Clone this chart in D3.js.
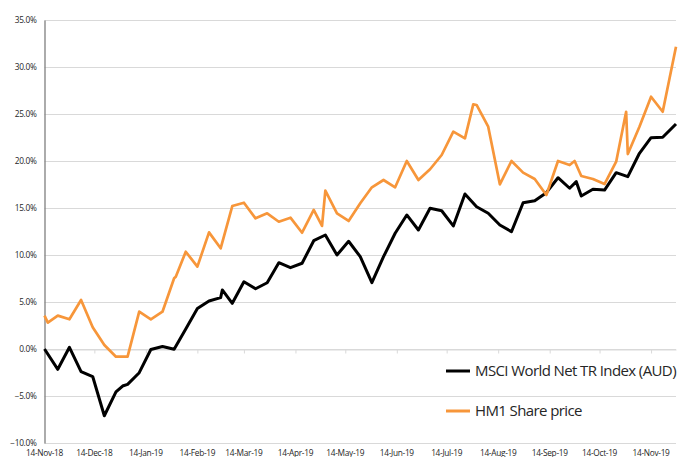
<!DOCTYPE html>
<html>
<head>
<meta charset="utf-8">
<script src="https://cdn.jsdelivr.net/npm/d3@7"></script>
<style>
  html, body { margin: 0; padding: 0; background: #fff; }
  svg { display: block; }
</style>
</head>
<body>
<svg id="chart" width="680" height="457"></svg>
<script>
// ---------------- DATA ----------------
const seriesNames = ["MSCI World Net TR Index (AUD)", "HM1 Share price"];

const msciDates = [
  "2018-11-14","2018-11-22","2018-11-29","2018-12-06","2018-12-13","2018-12-20","2018-12-27","2018-12-31",
  "2019-01-03","2019-01-10","2019-01-17","2019-01-24","2019-01-31","2019-02-07","2019-02-14","2019-02-21",
  "2019-02-28","2019-03-01","2019-03-07","2019-03-14","2019-03-21","2019-03-28","2019-04-04","2019-04-11",
  "2019-04-18","2019-04-25","2019-05-02","2019-05-09","2019-05-16","2019-05-23","2019-05-30","2019-06-06",
  "2019-06-13","2019-06-20","2019-06-27","2019-07-04","2019-07-11","2019-07-18","2019-07-25","2019-08-01",
  "2019-08-08","2019-08-15","2019-08-22","2019-08-29","2019-09-05","2019-09-12","2019-09-19","2019-09-26",
  "2019-09-30","2019-10-03","2019-10-10","2019-10-17","2019-10-24","2019-10-31","2019-11-07","2019-11-14",
  "2019-11-21","2019-11-29"
];
const msciValues = [
  0.0, -2.16, 0.18, -2.41, -2.93, -7.10, -4.57, -3.94,
  -3.76, -2.52, -0.05, 0.27, -0.03, 2.13, 4.30, 5.11,
  5.46, 6.28, 4.86, 7.16, 6.41, 7.05, 9.18, 8.65,
  9.12, 11.52, 12.13, 10.00, 11.46, 9.82, 7.05, 9.82,
  12.31, 14.26, 12.66, 14.97, 14.71, 13.09, 16.49, 15.14,
  14.44, 13.19, 12.48, 15.56, 15.78, 16.63, 18.22, 17.10,
  17.80, 16.28, 16.99, 16.91, 18.76, 18.33, 20.82, 22.48,
  22.52, 23.94
];

const hm1Dates = [
  "2018-11-14","2018-11-16","2018-11-22","2018-11-29","2018-12-06","2018-12-13","2018-12-20","2018-12-27",
  "2019-01-03","2019-01-10","2019-01-17","2019-01-24","2019-01-31","2019-02-01","2019-02-07","2019-02-14",
  "2019-02-21","2019-02-28","2019-03-07","2019-03-14","2019-03-21","2019-03-28","2019-04-04","2019-04-11",
  "2019-04-18","2019-04-25","2019-04-30","2019-05-02","2019-05-09","2019-05-16","2019-05-23","2019-05-30",
  "2019-06-06","2019-06-13","2019-06-20","2019-06-27","2019-07-04","2019-07-11","2019-07-18","2019-07-25",
  "2019-07-30","2019-08-01","2019-08-08","2019-08-15","2019-08-22","2019-08-29","2019-09-05","2019-09-12",
  "2019-09-19","2019-09-26","2019-09-29","2019-10-03","2019-10-10","2019-10-17","2019-10-24","2019-10-30",
  "2019-10-31","2019-11-07","2019-11-14","2019-11-21","2019-11-29"
];
const hm1Values = [
  3.55, 2.80, 3.55, 3.16, 5.21, 2.31, 0.43, -0.82,
  -0.82, 3.97, 3.16, 3.97, 7.52, 7.69, 10.35, 8.76,
  12.41, 10.71, 15.21, 15.56, 13.90, 14.43, 13.54, 13.97,
  12.37, 14.79, 13.09, 16.84, 14.43, 13.62, 15.50, 17.20,
  17.98, 17.20, 20.00, 17.98, 19.12, 20.64, 23.12, 22.41,
  26.03, 25.96, 23.65, 17.52, 20.00, 18.76, 18.09, 16.38,
  20.00, 19.57, 20.00, 18.40, 18.09, 17.55, 19.93, 25.24,
  20.74, 23.65, 26.84, 25.24, 32.16
];

const xTickDates = [
  "2018-11-14","2018-12-14","2019-01-14","2019-02-14","2019-03-14","2019-04-14","2019-05-14",
  "2019-06-14","2019-07-14","2019-08-14","2019-09-14","2019-10-14","2019-11-14"
];
const xTickLabels = [
  "14-Nov-18","14-Dec-18","14-Jan-19","14-Feb-19","14-Mar-19","14-Apr-19","14-May-19",
  "14-Jun-19","14-Jul-19","14-Aug-19","14-Sep-19","14-Oct-19","14-Nov-19"
];
const yTicks = [-10, -5, 0, 5, 10, 15, 20, 25, 30, 35];
const xDomain = ["2018-11-14", "2019-11-29"];
const yDomain = [-10, 35];

// ---------------- CHART ----------------
(function () {
const parse = d3.utcParse("%Y-%m-%d");
const svg = d3.select("#chart");
const pL = 44.5, pR = 676, pT = 20, pB = 443;

const x = d3.scaleUtc().domain(xDomain.map(parse)).range([pL, pR]);
const y = d3.scaleLinear().domain(yDomain).range([pB, pT]);

const font = "'Open Sans', sans-serif";

// gridlines
svg.append("g")
  .selectAll("line")
  .data(yTicks)
  .join("line")
  .attr("x1", pL).attr("x2", pR)
  .attr("y1", d => Math.round(y(d)) + 0.5).attr("y2", d => Math.round(y(d)) + 0.5)
  .attr("stroke", "#D9D9D9").attr("stroke-width", 1);

// category axis crossing at 0 with tick marks below
const xAxis = d3.axisBottom(x)
  .tickValues(xTickDates.map(parse))
  .tickSize(4)
  .tickSizeOuter(0)
  .tickFormat("");
const gx = svg.append("g")
  .attr("transform", `translate(0,${Math.round(y(0)) + 0.5})`)
  .call(xAxis);
gx.select(".domain").attr("stroke", "#D9D9D9");
gx.selectAll(".tick line").attr("stroke", "#D9D9D9");

// x labels at bottom
svg.append("g")
  .selectAll("text")
  .data(xTickDates)
  .join("text")
  .attr("x", d => x(parse(d)))
  .attr("y", 456)
  .attr("text-anchor", "middle")
  .attr("font-family", font)
  .attr("font-size", "8.3px")
  .attr("letter-spacing", "-0.3px")
  .attr("fill", "#262626")
  .text((d, i) => xTickLabels[i]);

// y axis
const yAxis = d3.axisLeft(y)
  .tickValues(yTicks)
  .tickSize(0)
  .tickPadding(8)
  .tickFormat(d => d3.format(".1f")(d) + "%");
const gy = svg.append("g")
  .attr("transform", `translate(${pL},0)`)
  .call(yAxis);
gy.select(".domain").attr("stroke", "#7F7F7F").attr("stroke-width", 1.3);
gy.selectAll("text")
  .attr("font-family", font)
  .attr("font-size", "8.3px")
  .attr("letter-spacing", "-0.3px")
  .attr("fill", "#262626");

// lines
const line = d3.line()
  .x(d => x(d.date))
  .y(d => y(d.value));

const msci = msciDates.map((d, i) => ({ date: parse(d), value: msciValues[i] }));
const hm1 = hm1Dates.map((d, i) => ({ date: parse(d), value: hm1Values[i] }));

const colors = ["#000000", "#F7963A"];

svg.append("path")
  .datum(msci)
  .attr("fill", "none")
  .attr("stroke", colors[0])
  .attr("stroke-width", 3)
  .attr("stroke-linejoin", "round")
  .attr("d", line);

svg.append("path")
  .datum(hm1)
  .attr("fill", "none")
  .attr("stroke", colors[1])
  .attr("stroke-width", 2.7)
  .attr("stroke-linejoin", "round")
  .attr("d", line);

// legend
const legendY = [371, 411];
const lg = svg.append("g");
seriesNames.forEach((name, i) => {
  lg.append("line")
    .attr("x1", 446).attr("x2", 470)
    .attr("y1", legendY[i]).attr("y2", legendY[i])
    .attr("stroke", colors[i]).attr("stroke-width", 3);
  lg.append("text")
    .attr("x", 475).attr("y", legendY[i])
    .attr("dy", "0.35em")
    .attr("font-family", font)
    .attr("font-size", "15px")
    .attr("letter-spacing", "-0.6px")
    .attr("fill", "#262626")
    .text(name);
});
})();
</script>
</body>
</html>
